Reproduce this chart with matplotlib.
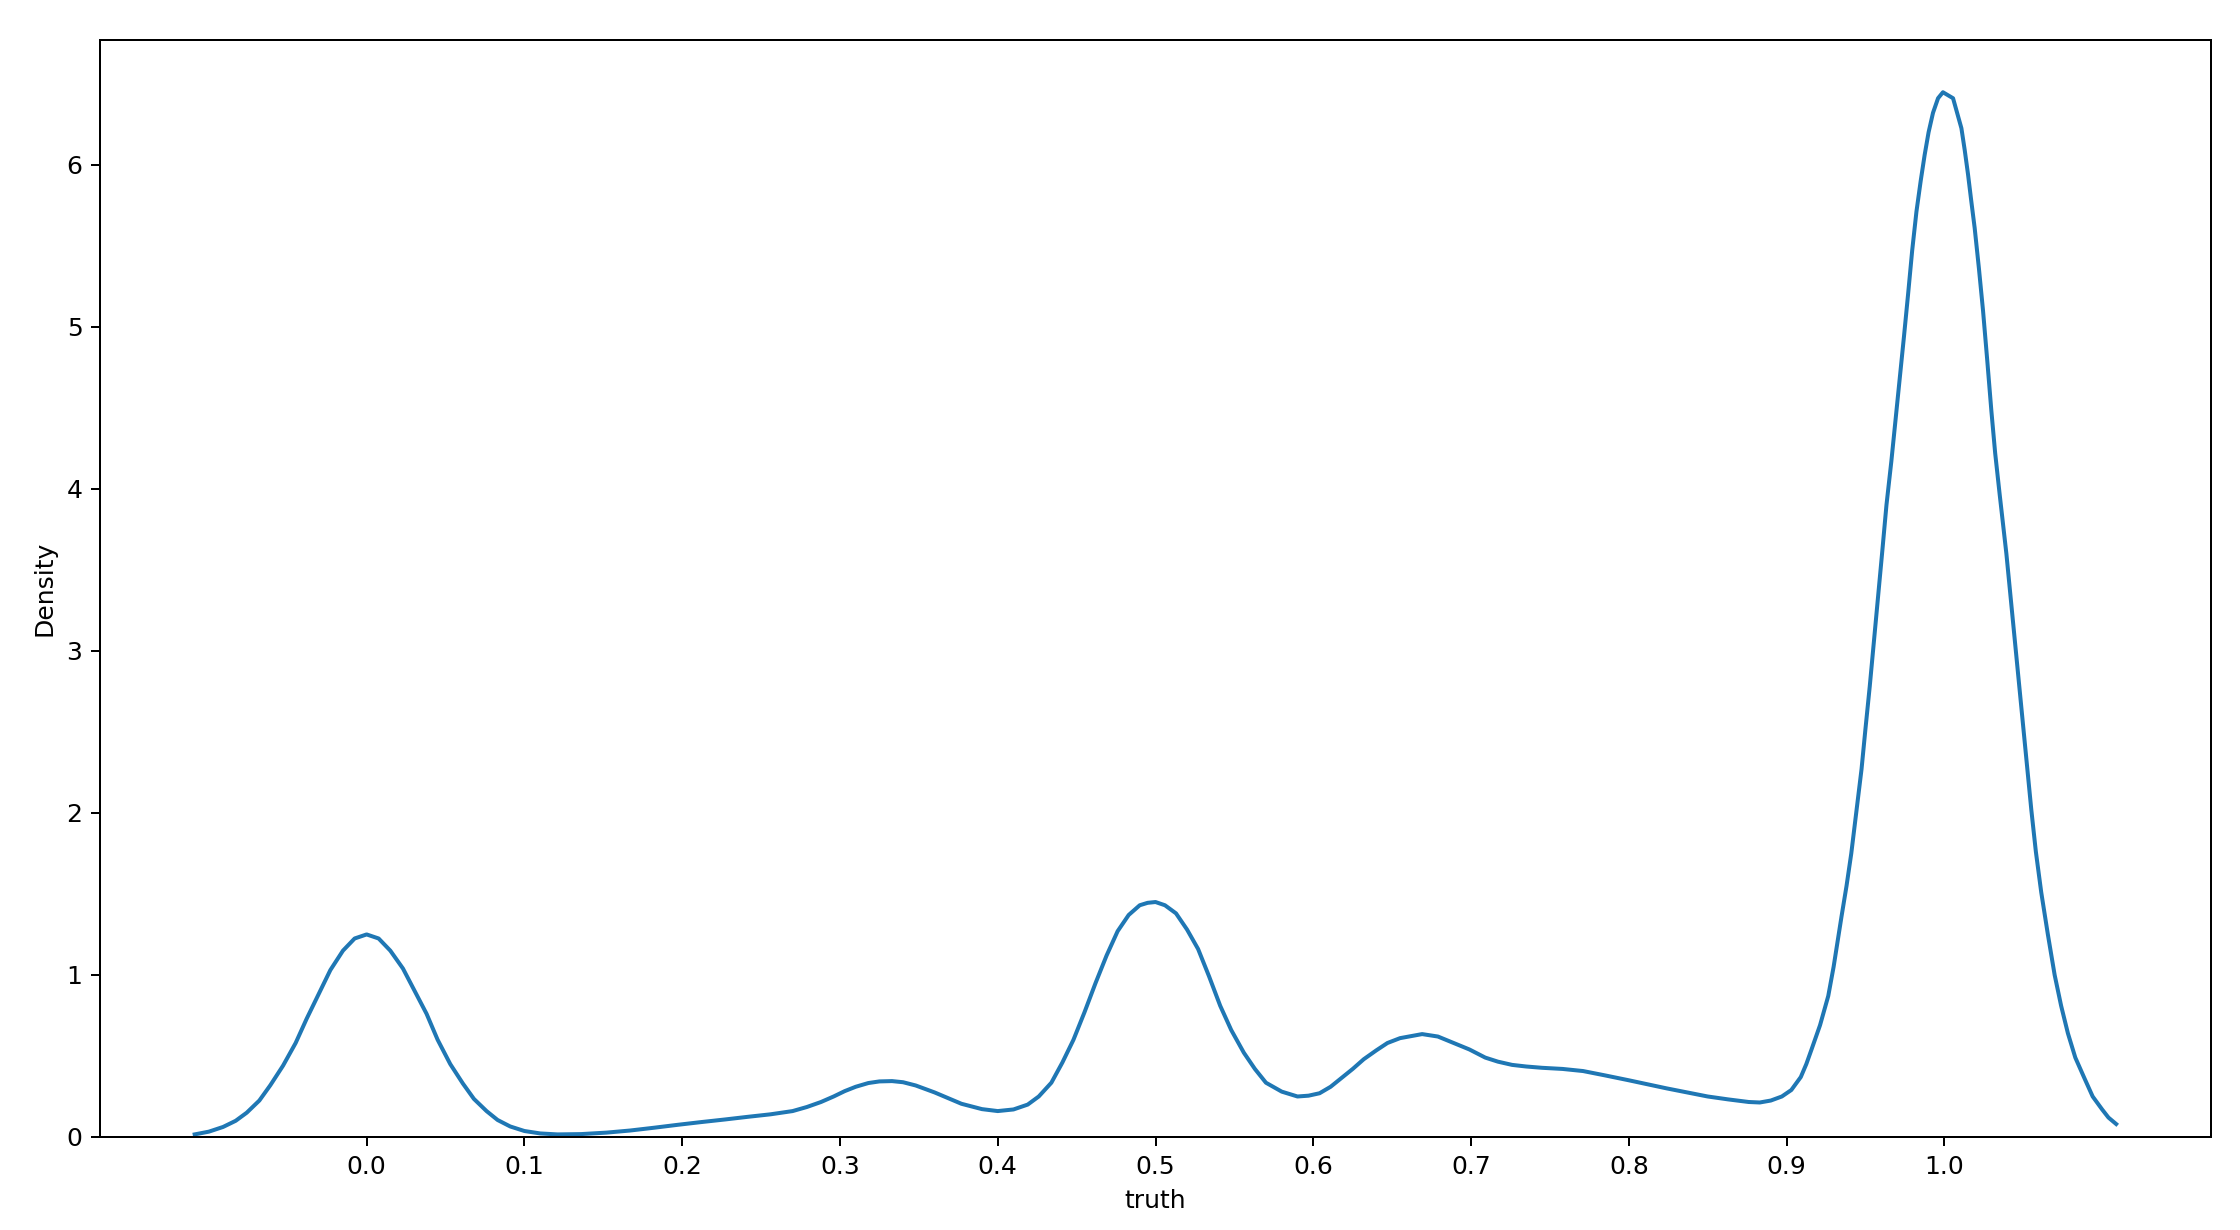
import numpy as np
import matplotlib
matplotlib.use("Agg")
import matplotlib.pyplot as plt

# KDE curve of "truth"
truth = [-0.109, -0.100, -0.091, -0.083, -0.076, -0.068, -0.061, -0.053, -0.045, -0.038,
         -0.030, -0.023, -0.015, -0.0076, 0.000, 0.0076, 0.015, 0.023, 0.030, 0.038,
         0.045, 0.053, 0.061, 0.068, 0.076, 0.083, 0.091, 0.100, 0.110, 0.121,
         0.136, 0.152, 0.167, 0.182, 0.197, 0.212, 0.227, 0.242, 0.256, 0.270,
         0.279, 0.288, 0.296, 0.303, 0.310, 0.318, 0.325, 0.333, 0.340, 0.348,
         0.360, 0.377, 0.390, 0.400, 0.410, 0.419, 0.426, 0.434, 0.441, 0.448,
         0.455, 0.462, 0.469, 0.476, 0.483, 0.490, 0.495, 0.500, 0.506, 0.513,
         0.520, 0.527, 0.534, 0.541, 0.548, 0.556, 0.563, 0.570, 0.580, 0.590,
         0.597, 0.604, 0.611, 0.618, 0.625, 0.632, 0.640, 0.647, 0.655, 0.669,
         0.679, 0.689, 0.699, 0.709, 0.717, 0.726, 0.735, 0.745, 0.758, 0.771,
         0.785, 0.800, 0.812, 0.824, 0.837, 0.850, 0.863, 0.876, 0.883, 0.890,
         0.897, 0.903, 0.906, 0.909, 0.9125, 0.9158, 0.919, 0.9212, 0.9264, 0.9298,
         0.9348, 0.938, 0.941, 0.944, 0.9475, 0.950, 0.9527, 0.955, 0.958, 0.9607,
         0.9633, 0.9664, 0.9717, 0.9744, 0.977, 0.9796, 0.9823, 0.985, 0.9875, 0.990,
         0.9928, 0.996, 0.9991, 1.0055, 1.0108, 1.0129, 1.015, 1.017, 1.0192, 1.0219,
         1.0245, 1.0272, 1.0298, 1.0322, 1.035, 1.0372, 1.0393, 1.0424, 1.0456, 1.0488,
         1.052, 1.0551, 1.058, 1.0614, 1.0656, 1.0699, 1.074, 1.0783, 1.083, 1.0889,
         1.094, 1.100, 1.104, 1.1089]
density = [0.016, 0.033, 0.062, 0.10, 0.15, 0.225, 0.32, 0.44, 0.58, 0.73,
           0.89, 1.03, 1.15, 1.225, 1.25, 1.225, 1.15, 1.04, 0.91, 0.76,
           0.60, 0.45, 0.33, 0.235, 0.16, 0.105, 0.065, 0.037, 0.022, 0.016,
           0.018, 0.027, 0.04, 0.057, 0.075, 0.092, 0.108, 0.125, 0.14, 0.16,
           0.185, 0.216, 0.25, 0.283, 0.31, 0.333, 0.343, 0.345, 0.338, 0.318,
           0.275, 0.205, 0.172, 0.160, 0.170, 0.20, 0.25, 0.335, 0.46, 0.60,
           0.77, 0.95, 1.12, 1.27, 1.37, 1.43, 1.445, 1.45, 1.43, 1.38,
           1.28, 1.16, 0.99, 0.81, 0.66, 0.52, 0.42, 0.335, 0.28, 0.25,
           0.255, 0.27, 0.31, 0.365, 0.42, 0.48, 0.535, 0.58, 0.61, 0.635,
           0.62, 0.58, 0.54, 0.49, 0.465, 0.445, 0.435, 0.427, 0.42, 0.407,
           0.38, 0.35, 0.325, 0.30, 0.275, 0.25, 0.232, 0.216, 0.213, 0.225,
           0.25, 0.29, 0.33, 0.37, 0.45, 0.54, 0.63, 0.69, 0.87, 1.05,
           1.36, 1.55, 1.75, 1.99, 2.27, 2.52, 2.78, 3.02, 3.34, 3.62,
           3.90, 4.17, 4.68, 4.94, 5.20, 5.47, 5.71, 5.90, 6.06, 6.20,
           6.32, 6.41, 6.447, 6.41, 6.225, 6.09, 5.94, 5.78, 5.61, 5.36,
           5.10, 4.79, 4.48, 4.22, 3.97, 3.78, 3.60, 3.29, 2.97, 2.65,
           2.33, 2.02, 1.76, 1.51, 1.25, 1.00, 0.81, 0.64, 0.49, 0.36,
           0.25, 0.17, 0.12, 0.08]

xticks = [0.0, 0.1, 0.2, 0.3, 0.4, 0.5, 0.6, 0.7, 0.8, 0.9, 1.0]

dpi = 180
fig = plt.figure(figsize=(2240 / dpi, 1230 / dpi), dpi=dpi)
ax = fig.add_axes([100 / 2240, 1 - 1137 / 1230, 2111 / 2240, 1097 / 1230])

ax.plot(truth, density, color="#1f77b4", lw=1.6)

ax.set_xlim(-0.169, 1.169)
ax.set_ylim(0, max(density) * 1.05)
ax.set_xticks(xticks)
ax.set_xlabel("truth")
ax.set_ylabel("Density")

fig.savefig("out.png", dpi=dpi)
